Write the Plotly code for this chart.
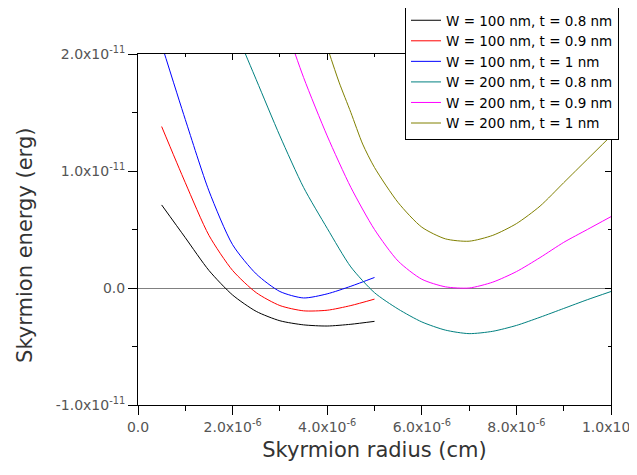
import plotly.graph_objects as go

# ---- data (radius in 1e-6 cm, energy in 1e-11 erg) ----
R_UNIT = 1e-6
E_UNIT = 1e-11

r_w100 = [0.5, 1.0, 1.5, 2.0, 2.5, 3.0, 3.5, 4.0, 4.5, 5.0]
e_w100_t08 = [0.71, 0.43, 0.15, -0.06, -0.20, -0.28, -0.315, -0.325, -0.31, -0.285]
e_w100_t09 = [1.38, 0.90, 0.45, 0.15, -0.04, -0.15, -0.195, -0.19, -0.15, -0.095]
e_w100_t10 = [2.08, 1.44, 0.83, 0.37, 0.12, -0.03, -0.085, -0.05, 0.015, 0.09]

r_w200_t08 = [2.0, 2.5, 3.0, 3.5, 4.0, 4.5, 5.0, 5.5, 6.0, 6.5, 7.0, 7.5, 8.0, 8.5, 9.0, 9.5, 10.0]
e_w200_t08 = [2.26, 1.78, 1.30, 0.86, 0.51, 0.18, -0.04, -0.18, -0.29, -0.36, -0.39, -0.37, -0.32, -0.25, -0.175, -0.10, -0.03]

r_w200_t09 = [3.0, 3.5, 4.0, 4.5, 5.0, 5.5, 6.0, 6.5, 7.0, 7.5, 8.0, 8.5, 9.0, 9.5, 10.0]
e_w200_t09 = [2.38, 1.80, 1.30, 0.86, 0.50, 0.23, 0.075, 0.01, 0.0, 0.05, 0.14, 0.26, 0.39, 0.50, 0.61]

r_w200_t10 = [4.0, 4.25, 4.5, 4.75, 5.0, 5.5, 6.0, 6.5, 7.0, 7.5, 8.0, 8.5, 9.0, 9.5, 10.0]
e_w200_t10 = [2.06, 1.76, 1.50, 1.23, 1.03, 0.73, 0.52, 0.42, 0.40, 0.45, 0.55, 0.70, 0.90, 1.10, 1.30]

series_names = [
    "W = 100 nm, t = 0.8 nm",
    "W = 100 nm, t = 0.9 nm",
    "W = 100 nm, t = 1 nm",
    "W = 200 nm, t = 0.8 nm",
    "W = 200 nm, t = 0.9 nm",
    "W = 200 nm, t = 1 nm",
]
series_colors = ["#000000", "#ff0000", "#0000ff", "#008080", "#ff00ff", "#808000"]

x_tickvals = [0, 2e-6, 4e-6, 6e-6, 8e-6, 1e-5]
x_ticktext = ["0.0", "2.0x10<sup>-6</sup>", "4.0x10<sup>-6</sup>", "6.0x10<sup>-6</sup>",
              "8.0x10<sup>-6</sup>", "1.0x10<sup>-5</sup>"]
x_minor = [1e-6, 3e-6, 5e-6, 7e-6, 9e-6]
y_tickvals = [-1e-11, 0, 1e-11, 2e-11]
y_ticktext = ["-1.0x10<sup>-11</sup>", "0.0", "1.0x10<sup>-11</sup>", "2.0x10<sup>-11</sup>"]
y_minor = [-0.5e-11, 0.5e-11, 1.5e-11]

x_title = "Skyrmion radius (cm)"
y_title = "Skyrmion energy (erg)"

# ---- figure ----
data_sets = [
    (r_w100, e_w100_t08),
    (r_w100, e_w100_t09),
    (r_w100, e_w100_t10),
    (r_w200_t08, e_w200_t08),
    (r_w200_t09, e_w200_t09),
    (r_w200_t10, e_w200_t10),
]

fig = go.Figure()
for (rs, es), name, col in zip(data_sets, series_names, series_colors):
    fig.add_trace(go.Scatter(
        x=[r * R_UNIT for r in rs],
        y=[e * E_UNIT for e in es],
        mode="lines", name=name,
        line=dict(color=col, width=1, shape="spline", smoothing=0.7),
    ))

# dummy trace to create mirrored axes with inward ticks
fig.add_trace(go.Scatter(x=[], y=[], xaxis="x2", yaxis="y2",
                         showlegend=False, hoverinfo="skip"))

XR = [0, 1e-5]
YR = [-1e-11, 2e-11]
tick_font = dict(family="DejaVu Sans", size=14, color="#555555")
title_font = dict(family="DejaVu Sans", size=21, color="#333333")

# page body has an 8px default margin, so the figure is 8px smaller
fig.update_layout(
    width=629, height=467,
    margin=dict(l=130, r=26, t=46, b=70, autoexpand=False),
    paper_bgcolor="white", plot_bgcolor="white",
    showlegend=True,
    legend=dict(
        x=0.5645, y=1.1425, xanchor="left", yanchor="top",
        bgcolor="white", bordercolor="#000000", borderwidth=1,
        font=dict(family="DejaVu Sans", size=13.5, color="#000000"),
        tracegroupgap=0, itemwidth=30,
    ),
    xaxis=dict(
        range=XR, showgrid=False, zeroline=False, automargin=False,
        showline=True, linecolor="#000000", linewidth=1, mirror=True,
        tickmode="array", tickvals=x_tickvals, ticktext=x_ticktext,
        ticks="outside", ticklen=9, tickcolor="#000000", tickwidth=1,
        minor=dict(tickvals=x_minor, ticks="outside", ticklen=5, tickcolor="#000000"),
        tickfont=tick_font, ticklabeloverflow="allow",
        title=dict(text=x_title, font=title_font, standoff=8),
    ),
    yaxis=dict(
        range=YR, showgrid=False, automargin=False,
        zeroline=True, zerolinecolor="#808080", zerolinewidth=1,
        showline=True, linecolor="#000000", linewidth=1, mirror=True,
        tickmode="array", tickvals=y_tickvals, ticktext=y_ticktext,
        ticks="outside", ticklen=9, tickcolor="#000000", tickwidth=1,
        minor=dict(tickvals=y_minor, ticks="outside", ticklen=5, tickcolor="#000000"),
        tickfont=tick_font, ticklabeloverflow="allow",
    ),
    xaxis2=dict(
        range=XR, overlaying="x", side="top", anchor="y", automargin=False,
        showgrid=False, zeroline=False, showline=False,
        tickmode="array", tickvals=x_tickvals, showticklabels=False,
        ticks="inside", ticklen=6, tickcolor="#000000",
        minor=dict(tickvals=x_minor, ticks="inside", ticklen=3, tickcolor="#000000"),
    ),
    yaxis2=dict(
        range=YR, overlaying="y", side="right", anchor="x", automargin=False,
        showgrid=False, zeroline=False, showline=False,
        tickmode="array", tickvals=y_tickvals, showticklabels=False,
        ticks="inside", ticklen=6, tickcolor="#000000",
        minor=dict(tickvals=y_minor, ticks="inside", ticklen=3, tickcolor="#000000"),
    ),
    annotations=[dict(
        text=y_title, textangle=-90, showarrow=False,
        xref="paper", yref="paper", x=-0.239, y=0.456,
        xanchor="center", yanchor="middle", font=title_font,
    )],
)

fig.write_html("out.html")
